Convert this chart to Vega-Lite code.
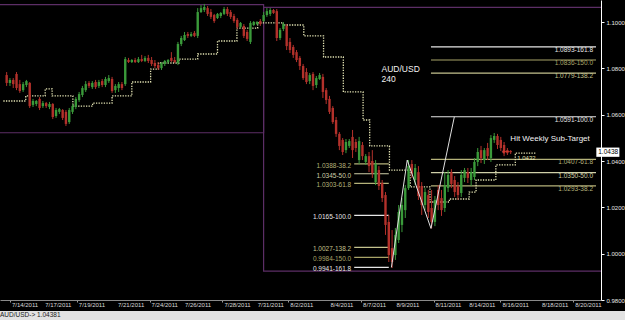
{
"$schema": "https://vega.github.io/schema/vega-lite/v6.json",
"background": "#000000",
"padding": 0,
"spacing": 0,
"config": {
  "font": "Liberation Sans",
  "view": {"stroke": null},
  "axisX": {"domainColor": "#8a8a8a", "tickColor": "#9a9a9a", "tickSize": 2, "labels": false, "grid": false, "minExtent": 11, "maxExtent": 11},
  "axisY": {"domainColor": "#ffffff", "tickColor": "#ffffff", "tickSize": 3, "labelColor": "#e8e8e8", "labelFontSize": 6, "labelFont": "Liberation Sans", "labelPadding": 2, "grid": false, "minExtent": 24, "maxExtent": 24, "labelOverlap": false, "labelFlush": false}
},
"datasets": {
"candles": [
{"i":0,"o":1.0771,"h":1.0784,"l":1.0724,"c":1.0737},
{"i":1,"o":1.0737,"h":1.0758,"l":1.0724,"c":1.0750},
{"i":2,"o":1.0750,"h":1.0758,"l":1.0715,"c":1.0732},
{"i":3,"o":1.0776,"h":1.0784,"l":1.0706,"c":1.0715},
{"i":4,"o":1.0732,"h":1.0750,"l":1.0694,"c":1.0702},
{"i":5,"o":1.0706,"h":1.0741,"l":1.0698,"c":1.0732},
{"i":6,"o":1.0728,"h":1.0750,"l":1.0719,"c":1.0745},
{"i":7,"o":1.0737,"h":1.0741,"l":1.0629,"c":1.0637},
{"i":8,"o":1.0642,"h":1.0668,"l":1.0633,"c":1.0659},
{"i":9,"o":1.0646,"h":1.0663,"l":1.0637,"c":1.0659},
{"i":10,"o":1.0668,"h":1.0676,"l":1.0620,"c":1.0629},
{"i":11,"o":1.0637,"h":1.0659,"l":1.0629,"c":1.0650},
{"i":12,"o":1.0650,"h":1.0655,"l":1.0629,"c":1.0637},
{"i":13,"o":1.0633,"h":1.0655,"l":1.0624,"c":1.0646},
{"i":14,"o":1.0646,"h":1.0650,"l":1.0581,"c":1.0590},
{"i":15,"o":1.0594,"h":1.0629,"l":1.0586,"c":1.0620},
{"i":16,"o":1.0612,"h":1.0629,"l":1.0603,"c":1.0624},
{"i":17,"o":1.0620,"h":1.0624,"l":1.0577,"c":1.0586},
{"i":18,"o":1.0612,"h":1.0620,"l":1.0551,"c":1.0560},
{"i":19,"o":1.0568,"h":1.0629,"l":1.0560,"c":1.0620},
{"i":20,"o":1.0612,"h":1.0646,"l":1.0603,"c":1.0637},
{"i":21,"o":1.0633,"h":1.0676,"l":1.0624,"c":1.0668},
{"i":22,"o":1.0663,"h":1.0698,"l":1.0655,"c":1.0689},
{"i":23,"o":1.0685,"h":1.0724,"l":1.0676,"c":1.0715},
{"i":24,"o":1.0706,"h":1.0745,"l":1.0698,"c":1.0732},
{"i":25,"o":1.0737,"h":1.0745,"l":1.0715,"c":1.0724},
{"i":26,"o":1.0719,"h":1.0745,"l":1.0711,"c":1.0737},
{"i":27,"o":1.0741,"h":1.0750,"l":1.0711,"c":1.0719},
{"i":28,"o":1.0724,"h":1.0750,"l":1.0715,"c":1.0741},
{"i":29,"o":1.0745,"h":1.0754,"l":1.0719,"c":1.0728},
{"i":30,"o":1.0728,"h":1.0763,"l":1.0719,"c":1.0754},
{"i":31,"o":1.0745,"h":1.0771,"l":1.0737,"c":1.0758},
{"i":32,"o":1.0754,"h":1.0763,"l":1.0694,"c":1.0702},
{"i":33,"o":1.0706,"h":1.0732,"l":1.0694,"c":1.0724},
{"i":34,"o":1.0715,"h":1.0741,"l":1.0698,"c":1.0732},
{"i":35,"o":1.0732,"h":1.0741,"l":1.0706,"c":1.0715},
{"i":36,"o":1.0732,"h":1.0849,"l":1.0724,"c":1.0840},
{"i":37,"o":1.0836,"h":1.0845,"l":1.0823,"c":1.0827},
{"i":38,"o":1.0827,"h":1.0840,"l":1.0823,"c":1.0836},
{"i":39,"o":1.0836,"h":1.0845,"l":1.0823,"c":1.0827},
{"i":40,"o":1.0827,"h":1.0849,"l":1.0823,"c":1.0840},
{"i":41,"o":1.0840,"h":1.0858,"l":1.0827,"c":1.0832},
{"i":42,"o":1.0832,"h":1.0853,"l":1.0827,"c":1.0845},
{"i":43,"o":1.0845,"h":1.0858,"l":1.0823,"c":1.0832},
{"i":44,"o":1.0836,"h":1.0849,"l":1.0810,"c":1.0819},
{"i":45,"o":1.0823,"h":1.0836,"l":1.0801,"c":1.0810},
{"i":46,"o":1.0814,"h":1.0827,"l":1.0793,"c":1.0801},
{"i":47,"o":1.0801,"h":1.0827,"l":1.0793,"c":1.0823},
{"i":48,"o":1.0819,"h":1.0836,"l":1.0810,"c":1.0832},
{"i":49,"o":1.0827,"h":1.0840,"l":1.0819,"c":1.0836},
{"i":50,"o":1.0845,"h":1.0870,"l":1.0827,"c":1.0832},
{"i":51,"o":1.0836,"h":1.0849,"l":1.0823,"c":1.0827},
{"i":52,"o":1.0823,"h":1.0914,"l":1.0814,"c":1.0905},
{"i":53,"o":1.0905,"h":1.0940,"l":1.0896,"c":1.0931},
{"i":54,"o":1.0922,"h":1.0957,"l":1.0918,"c":1.0944},
{"i":55,"o":1.0948,"h":1.0957,"l":1.0931,"c":1.0940},
{"i":56,"o":1.0940,"h":1.0957,"l":1.0935,"c":1.0948},
{"i":57,"o":1.0953,"h":1.0961,"l":1.0935,"c":1.0940},
{"i":58,"o":1.0940,"h":1.1060,"l":1.0931,"c":1.1043},
{"i":59,"o":1.1043,"h":1.1073,"l":1.1039,"c":1.1060},
{"i":60,"o":1.1052,"h":1.1078,"l":1.1043,"c":1.1065},
{"i":61,"o":1.1060,"h":1.1069,"l":1.1026,"c":1.1035},
{"i":62,"o":1.1043,"h":1.1056,"l":1.1013,"c":1.1022},
{"i":63,"o":1.1030,"h":1.1035,"l":1.0996,"c":1.1004},
{"i":64,"o":1.1017,"h":1.1039,"l":1.1013,"c":1.1035},
{"i":65,"o":1.1026,"h":1.1043,"l":1.1017,"c":1.1039},
{"i":66,"o":1.1035,"h":1.1065,"l":1.1030,"c":1.1056},
{"i":67,"o":1.1056,"h":1.1065,"l":1.1026,"c":1.1035},
{"i":68,"o":1.1043,"h":1.1052,"l":1.1013,"c":1.1022},
{"i":69,"o":1.1026,"h":1.1035,"l":1.0996,"c":1.1004},
{"i":70,"o":1.1009,"h":1.1017,"l":1.0970,"c":1.0979},
{"i":71,"o":1.0979,"h":1.1000,"l":1.0974,"c":1.0996},
{"i":72,"o":1.0983,"h":1.0991,"l":1.0931,"c":1.0940},
{"i":73,"o":1.0957,"h":1.0966,"l":1.0918,"c":1.0927},
{"i":74,"o":1.0914,"h":1.1004,"l":1.0905,"c":1.0996},
{"i":75,"o":1.0987,"h":1.1004,"l":1.0983,"c":1.1000},
{"i":76,"o":1.0991,"h":1.1004,"l":1.0987,"c":1.1000},
{"i":77,"o":1.1004,"h":1.1013,"l":1.0983,"c":1.0991},
{"i":78,"o":1.1004,"h":1.1043,"l":1.1000,"c":1.1030},
{"i":79,"o":1.1030,"h":1.1060,"l":1.1022,"c":1.1047},
{"i":80,"o":1.1035,"h":1.1060,"l":1.1026,"c":1.1052},
{"i":81,"o":1.1052,"h":1.1056,"l":1.1035,"c":1.1039},
{"i":82,"o":1.1047,"h":1.1056,"l":1.0918,"c":1.0931},
{"i":83,"o":1.0931,"h":1.0974,"l":1.0922,"c":1.0966},
{"i":84,"o":1.0970,"h":1.1000,"l":1.0961,"c":1.0991},
{"i":85,"o":1.0983,"h":1.0991,"l":1.0879,"c":1.0896},
{"i":86,"o":1.0914,"h":1.0931,"l":1.0866,"c":1.0879},
{"i":87,"o":1.0892,"h":1.0901,"l":1.0845,"c":1.0858},
{"i":88,"o":1.0870,"h":1.0879,"l":1.0827,"c":1.0836},
{"i":89,"o":1.0845,"h":1.0853,"l":1.0793,"c":1.0810},
{"i":90,"o":1.0810,"h":1.0819,"l":1.0750,"c":1.0758},
{"i":91,"o":1.0784,"h":1.0801,"l":1.0732,"c":1.0741},
{"i":92,"o":1.0745,"h":1.0780,"l":1.0732,"c":1.0771},
{"i":93,"o":1.0776,"h":1.0784,"l":1.0706,"c":1.0724},
{"i":94,"o":1.0728,"h":1.0767,"l":1.0715,"c":1.0758},
{"i":95,"o":1.0754,"h":1.0780,"l":1.0750,"c":1.0771},
{"i":96,"o":1.0763,"h":1.0776,"l":1.0672,"c":1.0698},
{"i":97,"o":1.0706,"h":1.0715,"l":1.0646,"c":1.0663},
{"i":98,"o":1.0668,"h":1.0681,"l":1.0603,"c":1.0612},
{"i":99,"o":1.0629,"h":1.0637,"l":1.0560,"c":1.0568},
{"i":100,"o":1.0577,"h":1.0590,"l":1.0504,"c":1.0517},
{"i":101,"o":1.0517,"h":1.0525,"l":1.0447,"c":1.0465},
{"i":102,"o":1.0491,"h":1.0499,"l":1.0426,"c":1.0439},
{"i":103,"o":1.0447,"h":1.0495,"l":1.0434,"c":1.0482},
{"i":104,"o":1.0465,"h":1.0495,"l":1.0456,"c":1.0486},
{"i":105,"o":1.0504,"h":1.0534,"l":1.0413,"c":1.0447},
{"i":106,"o":1.0482,"h":1.0495,"l":1.0439,"c":1.0456},
{"i":107,"o":1.0404,"h":1.0504,"l":1.0387,"c":1.0486},
{"i":108,"o":1.0469,"h":1.0482,"l":1.0404,"c":1.0421},
{"i":109,"o":1.0396,"h":1.0430,"l":1.0383,"c":1.0421},
{"i":110,"o":1.0421,"h":1.0439,"l":1.0352,"c":1.0378},
{"i":111,"o":1.0400,"h":1.0447,"l":1.0327,"c":1.0348},
{"i":112,"o":1.0309,"h":1.0404,"l":1.0296,"c":1.0387},
{"i":113,"o":1.0361,"h":1.0378,"l":1.0275,"c":1.0292},
{"i":114,"o":1.0305,"h":1.0318,"l":1.0223,"c":1.0240},
{"i":115,"o":1.0253,"h":1.0266,"l":1.0081,"c":1.0124},
{"i":116,"o":1.0137,"h":1.0167,"l":0.9964,"c":0.9994},
{"i":117,"o":1.0024,"h":1.0102,"l":0.9938,"c":0.9964},
{"i":118,"o":0.9994,"h":1.0111,"l":0.9973,"c":1.0081},
{"i":119,"o":1.0059,"h":1.0210,"l":1.0046,"c":1.0180},
{"i":120,"o":1.0124,"h":1.0240,"l":1.0093,"c":1.0210},
{"i":121,"o":1.0188,"h":1.0296,"l":1.0154,"c":1.0283},
{"i":122,"o":1.0283,"h":1.0404,"l":1.0275,"c":1.0378},
{"i":123,"o":1.0387,"h":1.0404,"l":1.0327,"c":1.0344},
{"i":124,"o":1.0318,"h":1.0387,"l":1.0296,"c":1.0370},
{"i":125,"o":1.0352,"h":1.0378,"l":1.0232,"c":1.0249},
{"i":126,"o":1.0292,"h":1.0309,"l":1.0167,"c":1.0210},
{"i":127,"o":1.0210,"h":1.0283,"l":1.0188,"c":1.0266},
{"i":128,"o":1.0253,"h":1.0275,"l":1.0154,"c":1.0180},
{"i":129,"o":1.0197,"h":1.0275,"l":1.0109,"c":1.0137},
{"i":130,"o":1.0137,"h":1.0249,"l":1.0119,"c":1.0232},
{"i":131,"o":1.0275,"h":1.0296,"l":1.0188,"c":1.0210},
{"i":132,"o":1.0240,"h":1.0275,"l":1.0163,"c":1.0188},
{"i":133,"o":1.0197,"h":1.0352,"l":1.0180,"c":1.0296},
{"i":134,"o":1.0283,"h":1.0361,"l":1.0266,"c":1.0340},
{"i":135,"o":1.0352,"h":1.0365,"l":1.0283,"c":1.0301},
{"i":136,"o":1.0318,"h":1.0335,"l":1.0245,"c":1.0266},
{"i":137,"o":1.0292,"h":1.0309,"l":1.0232,"c":1.0253},
{"i":138,"o":1.0262,"h":1.0361,"l":1.0245,"c":1.0340},
{"i":139,"o":1.0327,"h":1.0370,"l":1.0309,"c":1.0361},
{"i":140,"o":1.0352,"h":1.0370,"l":1.0305,"c":1.0327},
{"i":141,"o":1.0318,"h":1.0370,"l":1.0292,"c":1.0352},
{"i":142,"o":1.0331,"h":1.0413,"l":1.0318,"c":1.0396},
{"i":143,"o":1.0396,"h":1.0456,"l":1.0378,"c":1.0439},
{"i":144,"o":1.0447,"h":1.0465,"l":1.0391,"c":1.0413},
{"i":145,"o":1.0404,"h":1.0456,"l":1.0387,"c":1.0447},
{"i":146,"o":1.0456,"h":1.0478,"l":1.0404,"c":1.0421},
{"i":147,"o":1.0413,"h":1.0512,"l":1.0396,"c":1.0499},
{"i":148,"o":1.0491,"h":1.0521,"l":1.0478,"c":1.0508},
{"i":149,"o":1.0508,"h":1.0517,"l":1.0452,"c":1.0469},
{"i":150,"o":1.0491,"h":1.0504,"l":1.0443,"c":1.0456},
{"i":151,"o":1.0469,"h":1.0482,"l":1.0421,"c":1.0434},
{"i":152,"o":1.0447,"h":1.0456,"l":1.0426,"c":1.0434},
{"i":153,"o":1.0443,"h":1.0447,"l":1.0430,"c":1.0438}
],
"stops": [
{"t":-1,"p":1.0659},{"t":5.8,"p":1.0681},{"t":11.7,"p":1.0711},{"t":13.8,"p":1.0681},{"t":20.1,"p":1.0637},{"t":26.1,"p":1.0650},{"t":32.0,"p":1.0681},{"t":38.0,"p":1.0741},{"t":43.7,"p":1.0797},{"t":46.1,"p":1.0823},{"t":52.3,"p":1.0840},{"t":58.0,"p":1.0862},{"t":64.0,"p":1.0918},{"t":69.9,"p":1.0974},{"t":76.2,"p":1.0996},{"t":84.0,"p":1.0987},{"t":90.2,"p":1.0940},{"t":96.2,"p":1.0849},{"t":102.2,"p":1.0698},{"t":108.2,"p":1.0577},{"t":110.2,"p":1.0465},{"t":116.2,"p":1.0361},{"t":122.5,"p":1.0288},{"t":128.5,"p":1.0223},{"t":134.4,"p":1.0236},{"t":140.4,"p":1.0266},{"t":142.5,"p":1.0318},{"t":148.5,"p":1.0383},{"t":154.4,"p":1.0434},{"t":160.7,"p":1.0434}
],
"zigzag": [
{"t":116.8,"p":0.9941},{"t":121.6,"p":1.0404},{"t":128.8,"p":1.0109},{"t":135.9,"p":1.0591}
],
"boxes": [
{"t0":-5,"t1":78.0,"top":1.1075,"bottom":1.0522},
{"t0":78.0,"t1":185,"top":1.1063,"bottom":0.9925}
],
"dates": [
{"t":1,"label":"7/14/2011"},{"t":11.1,"label":"7/17/2011"},{"t":21.3,"label":"7/19/2011"},{"t":33.2,"label":"7/21/2011"},{"t":43.4,"label":"7/24/2011"},{"t":53.5,"label":"7/26/2011"},{"t":65.5,"label":"7/28/2011"},{"t":75.6,"label":"7/31/2011"},{"t":85.5,"label":"8/2/2011"},{"t":97.7,"label":"8/4/2011"},{"t":107.6,"label":"8/7/2011"},{"t":117.7,"label":"8/9/2011"},{"t":129.6,"label":"8/11/2011"},{"t":139.8,"label":"8/14/2011"},{"t":149.9,"label":"8/16/2011"},{"t":161.9,"label":"8/18/2011"},{"t":172,"label":"8/20/2011"}
],
"fibs": [
{"side":"left","t0":105.5,"t1":116.0,"p":1.0388,"pct":"38.2","label":"1.0388-38.2"},
{"side":"left","t0":105.5,"t1":116.0,"p":1.0345,"pct":"50.0","label":"1.0345-50.0"},
{"side":"left","t0":105.5,"t1":116.0,"p":1.0303,"pct":"61.8","label":"1.0303-61.8"},
{"side":"left","t0":105.5,"t1":116.0,"p":1.0165,"pct":"100.0","label":"1.0165-100.0"},
{"side":"left","t0":105.5,"t1":116.0,"p":1.0027,"pct":"138.2","label":"1.0027-138.2"},
{"side":"left","t0":105.5,"t1":116.0,"p":0.9984,"pct":"150.0","label":"0.9984-150.0"},
{"side":"left","t0":105.5,"t1":116.0,"p":0.9941,"pct":"161.8","label":"0.9941-161.8"},
{"side":"right","t0":128.8,"t1":178.9,"p":1.0293,"pct":"38.2","label":"1.0293-38.2"},
{"side":"right","t0":128.8,"t1":178.9,"p":1.0350,"pct":"50.0","label":"1.0350-50.0"},
{"side":"right","t0":128.8,"t1":178.9,"p":1.0407,"pct":"61.8","label":"1.0407-61.8"},
{"side":"right","t0":128.8,"t1":178.9,"p":1.0591,"pct":"100.0","label":"1.0591-100.0"},
{"side":"right","t0":128.8,"t1":178.9,"p":1.0779,"pct":"138.2","label":"1.0779-138.2"},
{"side":"right","t0":128.8,"t1":178.9,"p":1.0836,"pct":"150.0","label":"1.0836-150.0"},
{"side":"right","t0":128.8,"t1":178.9,"p":1.0893,"pct":"161.8","label":"1.0893-161.8"}
],
"notes": [
{"t":113.8,"p":1.0799,"text":"AUD/USD","size":"big"},
{"t":113.8,"p":1.0756,"text":"240","size":"big"},
{"t":152.9,"p":1.0493,"text":"Hit Weekly Sub-Target","size":"mid"}
]
},
"vconcat": [
{
"width": 601,
"height": 300,
"layer": [
{
 "data": {"name": "boxes"},
 "mark": {"type": "rect", "fill": null, "fillOpacity": 0, "stroke": "#5c2e66", "strokeWidth": 1.2, "clip": true},
 "encoding": {
  "x": {"field": "t0", "type": "quantitative", "title": null, "scale": {"domain": [-0.5, 178.9], "nice": false, "zero": false},
   "axis": {"labels": false, "values": [1,11.1,21.3,33.2,43.4,53.5,65.5,75.6,85.5,97.7,107.6,117.7,129.6,139.8,149.9,161.9,172]}},
  "x2": {"field": "t1"},
  "y": {"field": "top", "type": "quantitative", "title": null, "scale": {"domain": [0.98, 1.1095], "nice": false, "zero": false},
   "axis": {"orient": "right", "labelOverlap": false, "values": [0.98, 1.0, 1.02, 1.04, 1.06, 1.08, 1.1], "format": ".4f"}},
  "y2": {"field": "bottom"}
 }
},
{
 "data": {"name": "dates"},
 "mark": {"type": "text", "align": "left", "baseline": "middle", "dx": 2, "color": "#d8d8d8", "fontSize": 6, "font": "Liberation Sans", "clip": false},
 "encoding": {
  "x": {"field": "t", "type": "quantitative", "title": null, "scale": {"domain": [-0.5, 178.9], "nice": false, "zero": false}},
  "y": {"datum": 0.9777, "type": "quantitative", "title": null, "scale": {"domain": [0.98, 1.1095], "nice": false, "zero": false}},
  "text": {"field": "label"}
 }
},
{
 "data": {"name": "fibs"},
 "mark": {"type": "rule", "strokeWidth": 1.2, "clip": true},
 "encoding": {
  "x": {"field": "t0", "type": "quantitative", "title": null, "scale": {"domain": [-0.5, 178.9], "nice": false, "zero": false}},
  "x2": {"field": "t1"},
  "y": {"field": "p", "type": "quantitative", "title": null, "scale": {"domain": [0.98, 1.1095], "nice": false, "zero": false}},
  "color": {"field": "pct", "type": "nominal", "legend": null, "scale": {"domain": ["38.2","50.0","61.8","100.0","138.2","150.0","161.8"], "range": ["#b5b27a","#cfcfa8","#b5b27a","#e6e6e6","#c4c28e","#a8a468","#e6e6e6"]}}
 }
},
{
 "data": {"name": "fibs"},
 "transform": [{"filter": "datum.side == 'left'"}],
 "mark": {"type": "text", "align": "right", "baseline": "middle", "dx": -3, "dy": 2, "fontSize": 6.5, "font": "Liberation Sans"},
 "encoding": {
  "x": {"field": "t0", "type": "quantitative", "title": null, "scale": {"domain": [-0.5, 178.9], "nice": false, "zero": false}},
  "y": {"field": "p", "type": "quantitative", "title": null, "scale": {"domain": [0.98, 1.1095], "nice": false, "zero": false}},
  "text": {"field": "label"},
  "color": {"field": "pct", "type": "nominal", "legend": null, "scale": {"domain": ["38.2","50.0","61.8","100.0","138.2","150.0","161.8"], "range": ["#b5b27a","#cfcfa8","#b5b27a","#e6e6e6","#c4c28e","#a8a468","#e6e6e6"]}}
 }
},
{
 "data": {"name": "fibs"},
 "transform": [{"filter": "datum.side == 'right'"}],
 "mark": {"type": "text", "align": "right", "baseline": "middle", "dx": -3, "dy": 3, "fontSize": 6.5, "font": "Liberation Sans"},
 "encoding": {
  "x": {"field": "t1", "type": "quantitative", "title": null, "scale": {"domain": [-0.5, 178.9], "nice": false, "zero": false}},
  "y": {"field": "p", "type": "quantitative", "title": null, "scale": {"domain": [0.98, 1.1095], "nice": false, "zero": false}},
  "text": {"field": "label"},
  "color": {"field": "pct", "type": "nominal", "legend": null, "scale": {"domain": ["38.2","50.0","61.8","100.0","138.2","150.0","161.8"], "range": ["#b5b27a","#cfcfa8","#b5b27a","#e6e6e6","#c4c28e","#a8a468","#e6e6e6"]}}
 }
},
{
 "data": {"name": "stops"},
 "mark": {"type": "line", "interpolate": "step-after", "color": "#e4e4b4", "strokeWidth": 1.3, "strokeDash": [1.3, 1.3], "clip": true},
 "encoding": {
  "x": {"field": "t", "type": "quantitative", "title": null, "scale": {"domain": [-0.5, 178.9], "nice": false, "zero": false}},
  "y": {"field": "p", "type": "quantitative", "title": null, "scale": {"domain": [0.98, 1.1095], "nice": false, "zero": false}}
 }
},
{
 "data": {"name": "candles"},
 "mark": {"type": "rule", "strokeWidth": 1},
 "encoding": {
  "x": {"field": "i", "type": "quantitative", "title": null, "scale": {"domain": [-0.5, 178.9], "nice": false, "zero": false}},
  "y": {"field": "l", "type": "quantitative", "title": null, "scale": {"domain": [0.98, 1.1095], "nice": false, "zero": false}},
  "y2": {"field": "h"},
  "color": {"condition": {"test": "datum.c >= datum.o", "value": "#3a9a3a"}, "value": "#b3312b"}
 }
},
{
 "data": {"name": "candles"},
 "mark": {"type": "bar", "size": 2.4},
 "encoding": {
  "x": {"field": "i", "type": "quantitative", "title": null, "scale": {"domain": [-0.5, 178.9], "nice": false, "zero": false}},
  "y": {"field": "o", "type": "quantitative", "title": null, "scale": {"domain": [0.98, 1.1095], "nice": false, "zero": false}},
  "y2": {"field": "c"},
  "color": {"condition": {"test": "datum.c >= datum.o", "value": "#3a9a3a"}, "value": "#b3312b"}
 }
},
{
 "data": {"name": "zigzag"},
 "mark": {"type": "line", "color": "#e0e0e0", "strokeWidth": 1},
 "encoding": {
  "x": {"field": "t", "type": "quantitative", "title": null, "scale": {"domain": [-0.5, 178.9], "nice": false, "zero": false}},
  "y": {"field": "p", "type": "quantitative", "title": null, "scale": {"domain": [0.98, 1.1095], "nice": false, "zero": false}}
 }
},
{
 "data": {"name": "notes"},
 "mark": {"type": "text", "align": "left", "baseline": "middle", "color": "#f2f2f2", "font": "Liberation Sans"},
 "encoding": {
  "x": {"field": "t", "type": "quantitative", "title": null, "scale": {"domain": [-0.5, 178.9], "nice": false, "zero": false}},
  "y": {"field": "p", "type": "quantitative", "title": null, "scale": {"domain": [0.98, 1.1095], "nice": false, "zero": false}},
  "text": {"field": "text"},
  "size": {"field": "size", "type": "nominal", "legend": null, "scale": {"domain": ["big", "mid"], "range": [8.5, 8]}}
 }
},
{
 "data": {"values": [{"t": 151.4, "p": 1.0439, "text": "←"}]},
 "mark": {"type": "text", "align": "center", "baseline": "middle", "color": "#d23a2e", "fontSize": 10, "font": "DejaVu Sans"},
 "encoding": {
  "x": {"field": "t", "type": "quantitative", "title": null, "scale": {"domain": [-0.5, 178.9], "nice": false, "zero": false}},
  "y": {"field": "p", "type": "quantitative", "title": null, "scale": {"domain": [0.98, 1.1095], "nice": false, "zero": false}},
  "text": {"field": "text"}
 }
},
{
 "data": {"values": [{"t": 155.0, "p": 1.0415, "text": "1.0432"}]},
 "mark": {"type": "text", "align": "left", "baseline": "middle", "color": "#e4e4b4", "fontSize": 6, "font": "Liberation Sans"},
 "encoding": {
  "x": {"field": "t", "type": "quantitative", "title": null, "scale": {"domain": [-0.5, 178.9], "nice": false, "zero": false}},
  "y": {"field": "p", "type": "quantitative", "title": null, "scale": {"domain": [0.98, 1.1095], "nice": false, "zero": false}},
  "text": {"field": "text"}
 }
},
{
 "data": {"values": [{"t0": 179.0, "t1": 186.0, "top": 1.0458, "bottom": 1.0418}]},
 "mark": {"type": "rect", "fill": "#ffffff", "clip": false},
 "encoding": {
  "x": {"field": "t0", "type": "quantitative", "title": null, "scale": {"domain": [-0.5, 178.9], "nice": false, "zero": false}},
  "x2": {"field": "t1"},
  "y": {"field": "top", "type": "quantitative", "title": null, "scale": {"domain": [0.98, 1.1095], "nice": false, "zero": false}},
  "y2": {"field": "bottom"}
 }
},
{
 "data": {"values": [{"t": 182.6, "p": 1.0438, "text": "1.0438"}]},
 "mark": {"type": "text", "align": "center", "baseline": "middle", "color": "#000000", "fontSize": 6.5, "font": "Liberation Sans", "clip": false},
 "encoding": {
  "x": {"field": "t", "type": "quantitative", "title": null, "scale": {"domain": [-0.5, 178.9], "nice": false, "zero": false}},
  "y": {"field": "p", "type": "quantitative", "title": null, "scale": {"domain": [0.98, 1.1095], "nice": false, "zero": false}},
  "text": {"field": "text"}
 }
}
]
},
{
"width": 625,
"height": 9,
"view": {"fill": "#e2e2e2", "stroke": null},
"title": {"text": "AUD/USD-> 1.04381", "orient": "bottom", "anchor": "start", "frame": "group", "offset": -8, "fontSize": 6.5, "fontWeight": "normal", "color": "#1a1a1a", "font": "Liberation Sans", "baseline": "top"},
"data": {"values": []},
"mark": "rect"
}
]
}
